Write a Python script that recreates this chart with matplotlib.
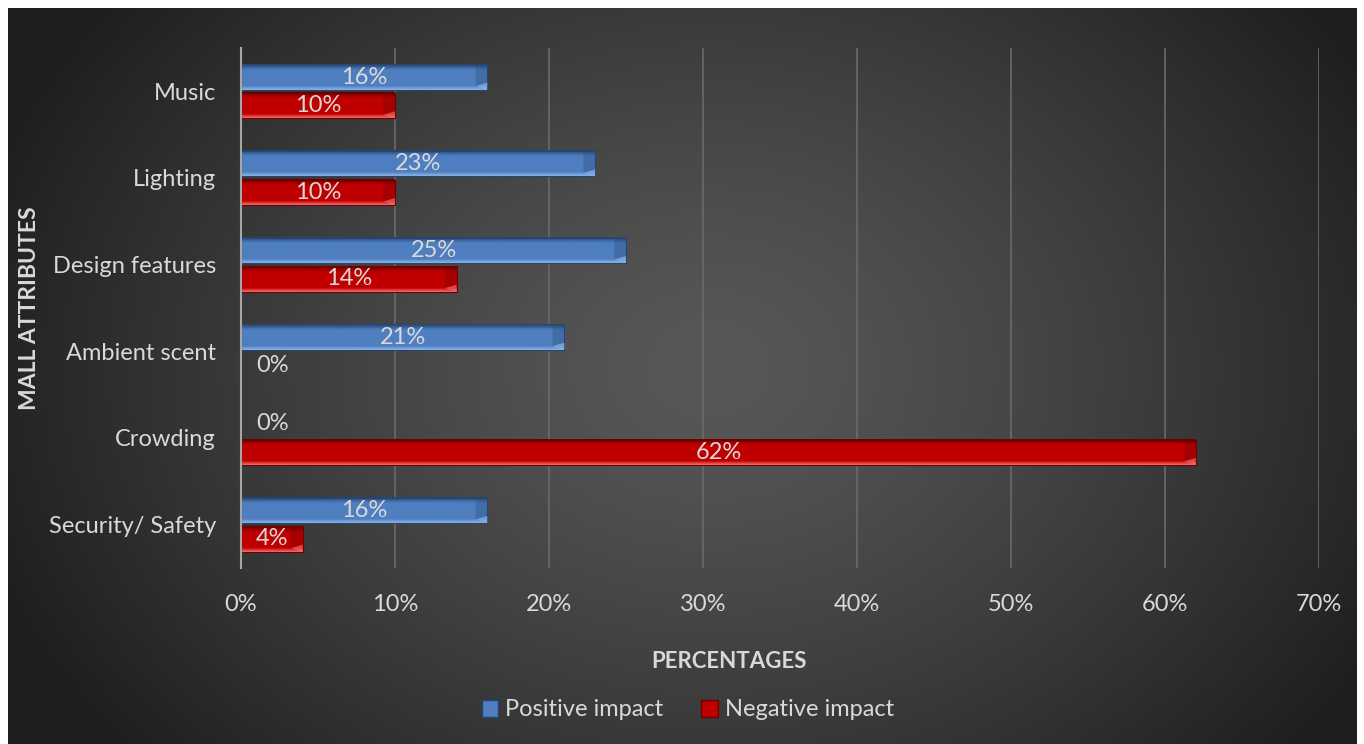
import numpy as np
import matplotlib.pyplot as plt
from matplotlib.patches import Patch
from matplotlib.colors import to_rgb

# survey results: share of respondents per mall attribute
attributes = ['Security/ Safety', 'Crowding', 'Ambient scent', 'Design features', 'Lighting', 'Music']
positive = [16, 0, 21, 25, 23, 16]
negative = [4, 62, 0, 14, 10, 10]
series_names = ['Positive impact', 'Negative impact']
x_ticks = [0, 10, 20, 30, 40, 50, 60, 70]

TEXT = '#d9d9d9'
FONT = ['Lato', 'DejaVu Sans']
plt.rcParams['font.family'] = FONT
FS = 17

# (highlight, body, shadow) for the bevelled bars
blue = ('#8fb5e8', '#4f7fc0', '#26456f')
red = ('#f57070', '#c00000', '#6e0000')


def gradient(cols, n=40):
    hi, mid, lo = [np.array(to_rgb(c)) for c in cols]
    t = np.linspace(0, 1, n)
    out = np.zeros((n, 1, 3))
    for i, v in enumerate(t):
        if v < 0.15:
            c = hi + (mid - hi) * (v / 0.15)
        elif v < 0.78:
            c = mid
        else:
            c = mid + (lo - mid) * ((v - 0.78) / 0.22)
        out[i, 0] = c
    return out


def bevel_bars(ax, ys, vals, cols, h):
    img = gradient(cols)
    for y, v in zip(ys, vals):
        if v <= 0:
            continue
        ax.imshow(img, extent=(0, v, y + h / 2, y - h / 2), aspect='auto',
                  interpolation='bilinear', zorder=3)
        ax.barh(y, v, height=h, color='none', edgecolor=cols[2], linewidth=0.8, zorder=4)
        # bevelled end: light upper triangle, dark lower part
        cap = 0.011 * 70
        ax.fill([v - cap, v, v], [y - h / 2 + 0.04, y - h / 2, y - h / 2 + 0.08],
                color=cols[0], alpha=0.6, lw=0, zorder=4)
        ax.fill([v - cap, v, v, v - cap], [y - h / 2 + 0.04, y - h / 2 + 0.08, y + h / 2, y + h / 2],
                color=cols[2], alpha=0.3, lw=0, zorder=4)


fig = plt.figure(figsize=(13.64, 7.44), dpi=100)
fig.patch.set_facecolor('white')

# radial background
bg = fig.add_axes([8 / 1364, 0, 1349 / 1364, 736 / 744])
yy, xx = np.mgrid[0:736, 0:1349]
r = np.hypot((xx - 700) / 900.0, (yy - 360) / 700.0)
shade = np.clip(0.345 - 0.28 * r ** 1.3, 0.12, 0.35)
bg.imshow(np.dstack([shade] * 3), aspect='auto', interpolation='bilinear')
bg.axis('off')

ax = fig.add_axes([241 / 1364, 1 - 568 / 744, 1078 / 1364, 520 / 744])
ax.patch.set_alpha(0)

y = np.arange(len(attributes))
h = 0.29
off = 0.165
bevel_bars(ax, y + off, positive, blue, h)
bevel_bars(ax, y - off, negative, red, h)

for ys, vals in ((y + off, positive), (y - off, negative)):
    for yy_, v in zip(ys, vals):
        if v > 0:
            ax.text(v / 2, yy_, f'{v}%', ha='center', va='center', color=TEXT,
                    fontsize=FS, zorder=5)
        else:
            ax.annotate(f'{v}%', (0, yy_), xytext=(11, 0), textcoords='offset points',
                        ha='left', va='center', color=TEXT, fontsize=FS, zorder=5)

ax.set_xlim(0, 70)
ax.set_ylim(-0.5, len(attributes) - 0.5)
ax.set_xticks(x_ticks)
ax.set_xticklabels([f'{t}%' for t in x_ticks])
ax.set_yticks(y)
ax.set_yticklabels(attributes)
ax.tick_params(colors=TEXT, labelsize=FS, length=0)
ax.tick_params(axis='x', pad=19)
ax.tick_params(axis='y', pad=18)
ax.grid(axis='x', color='#6a6a6a', linewidth=1.2, zorder=0)
ax.set_axisbelow(True)
for s in ('top', 'right', 'bottom'):
    ax.spines[s].set_visible(False)
ax.spines['left'].set_color('#a6a6a6')
ax.spines['left'].set_linewidth(1.5)
ax.spines['left'].set_zorder(6)

fig.text(729 / 1364, 1 - 661 / 744, 'PERCENTAGES', ha='center', va='center',
         color=TEXT, fontsize=16, fontweight='bold')
fig.text(30 / 1364, 1 - 308 / 744, 'MALL ATTRIBUTES', ha='center', va='center',
         rotation=90, color=TEXT, fontsize=16.5, fontweight='bold')

handles = [Patch(facecolor=blue[1], edgecolor=blue[2]),
           Patch(facecolor=red[1], edgecolor=red[2])]
fig.legend(handles, series_names, loc='center', bbox_to_anchor=(688 / 1364, 1 - 710 / 744),
           ncol=2, frameon=False, fontsize=FS, labelcolor=TEXT,
           handlelength=0.7, handleheight=0.7, handletextpad=0.3, columnspacing=1.6)

fig.savefig('out.png', dpi=100, facecolor=fig.get_facecolor())
